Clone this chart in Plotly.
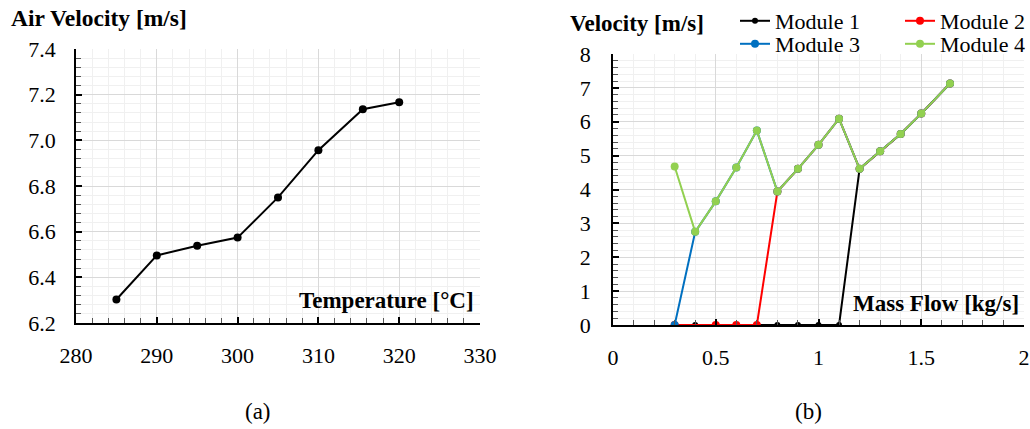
import plotly.graph_objects as go

# ---- data (a) ----
temp_c = [285, 290, 295, 300, 305, 310, 315.5, 320]
air_velocity = [6.303, 6.496, 6.538, 6.574, 6.750, 6.957, 7.136, 7.167]

# ---- data (b) ----
flow_m1 = [0.3, 0.4, 0.5, 0.6, 0.7, 0.8, 0.9, 1.0, 1.1, 1.2, 1.3, 1.4, 1.5, 1.64]
vel_m1 = [0, 0, 0, 0, 0, 0, 0, 0, 0, 4.61, 5.13, 5.64, 6.24, 7.13]
flow_m2 = [0.3, 0.5, 0.6, 0.7, 0.8, 0.9, 1.0, 1.1, 1.2, 1.3, 1.4, 1.5, 1.64]
vel_m2 = [0, 0, 0, 0, 3.94, 4.61, 5.32, 6.09, 4.61, 5.13, 5.64, 6.24, 7.13]
flow_m3 = [0.3, 0.4, 0.5, 0.6, 0.7, 0.8, 0.9, 1.0, 1.1, 1.2, 1.3, 1.4, 1.5, 1.64]
vel_m3 = [0, 2.75, 3.65, 4.65, 5.74, 3.94, 4.61, 5.32, 6.09, 4.61, 5.13, 5.64, 6.24, 7.13]
flow_m4 = [0.3, 0.4, 0.5, 0.6, 0.7, 0.8, 0.9, 1.0, 1.1, 1.2, 1.3, 1.4, 1.5, 1.64]
vel_m4 = [4.68, 2.75, 3.65, 4.65, 5.74, 3.94, 4.61, 5.32, 6.09, 4.61, 5.13, 5.64, 6.24, 7.13]

module_names = ["Module 1", "Module 2", "Module 3", "Module 4"]
module_colors = ["#000000", "#FF0000", "#0070C0", "#92D050"]
module_x = [flow_m1, flow_m2, flow_m3, flow_m4]
module_y = [vel_m1, vel_m2, vel_m3, vel_m4]
module_marker = [6, 8, 8, 8]
module_legend = ["legend", "legend2", "legend3", "legend4"]

FONT = "Liberation Serif, Times New Roman, serif"
W, H = 1030, 429

fig = go.Figure()

fig.add_trace(go.Scatter(
    x=temp_c, y=air_velocity, mode="lines+markers",
    line=dict(color="black", width=2), marker=dict(color="black", size=8),
    xaxis="x", yaxis="y", showlegend=False))

for name, col, xs, ys, ms, lg in zip(module_names, module_colors, module_x, module_y,
                                       module_marker, module_legend):
    fig.add_trace(go.Scatter(
        x=xs, y=ys, mode="lines+markers", name=name,
        line=dict(color=col, width=2), marker=dict(color=col, size=ms),
        xaxis="x2", yaxis="y2", legend=lg, showlegend=True))


def ax(rng, dtick, mdtick, domain, standoff, anchor, fmt=None):
    d = dict(
        range=rng, dtick=dtick, tick0=rng[0], domain=domain, anchor=anchor,
        automargin=False,
        ticks="inside", ticklen=6, tickwidth=1.5, tickcolor="black",
        showline=True, linecolor="black", linewidth=1.5,
        showgrid=True, gridcolor="#d9d9d9", gridwidth=1,
        zeroline=False, ticklabelstandoff=standoff,
        tickfont=dict(family=FONT, size=22, color="black"),
        minor=dict(dtick=mdtick, ticks="inside", ticklen=5, tickcolor="#555555",
                   tickwidth=1, showgrid=True, gridcolor="#f0f0f0", gridwidth=1),
        fixedrange=True,
    )
    if fmt:
        d["tickformat"] = fmt
    return d


px_x = lambda p: p / W
px_y = lambda p: 1 - p / H


def leg(x, y, anchor):
    return dict(orientation="h", x=x, y=y, xanchor=anchor, yanchor="top",
                font=dict(family=FONT, size=22), bgcolor="rgba(0,0,0,0)",
                itemclick=False, itemdoubleclick=False, itemwidth=30)


layout = dict(
    template="none",
    width=W, height=H, autosize=False, margin=dict(l=0, r=0, t=0, b=0),
    paper_bgcolor="white", plot_bgcolor="white",
    font=dict(family=FONT, color="black"),
    xaxis=ax([280, 330], 10, 2, [px_x(76), px_x(480)], 12, "y"),
    yaxis=ax([6.2, 7.4], 0.2, 0.04, [px_y(323), px_y(49)], 14, "x", ".1f"),
    xaxis2=ax([0, 2], 0.5, 0.1, [px_x(613), px_x(1024)], 12, "y2"),
    yaxis2=ax([0, 8], 1, 0.2, [px_y(325), px_y(54)], 16, "x2"),
    legend=leg(px_x(735), 1.0, "left"),
    legend2=leg(1.0, 1.0, "right"),
    legend3=leg(px_x(735), px_y(23), "left"),
    legend4=leg(1.0, px_y(23), "right"),
    annotations=[
        dict(text="<b>Air Velocity [m/s]</b>", x=px_x(9), y=px_y(18), xref="paper", yref="paper",
             xanchor="left", yanchor="middle", showarrow=False, font=dict(family=FONT, size=23.5)),
        dict(text="<b>Temperature [°C]</b>", x=px_x(476), y=px_y(300), xref="paper", yref="paper",
             xanchor="right", yanchor="middle", showarrow=False, font=dict(family=FONT, size=23)),
        dict(text="<b>Velocity [m/s]</b>", x=px_x(568), y=px_y(24), xref="paper", yref="paper",
             xanchor="left", yanchor="middle", showarrow=False, font=dict(family=FONT, size=23)),
        dict(text="<b>Mass Flow [kg/s]</b>", x=px_x(1021), y=px_y(303), xref="paper", yref="paper",
             xanchor="right", yanchor="middle", showarrow=False, font=dict(family=FONT, size=23)),
        dict(text="(a)", x=px_x(258), y=px_y(411), xref="paper", yref="paper",
             xanchor="center", yanchor="middle", showarrow=False, font=dict(family=FONT, size=23)),
        dict(text="(b)", x=px_x(808), y=px_y(411), xref="paper", yref="paper",
             xanchor="center", yanchor="middle", showarrow=False, font=dict(family=FONT, size=23)),
    ],
)
fig.update_layout(**layout)
fig.write_html(
    "out.html",
    config={"displayModeBar": False, "responsive": False},
    post_script="document.body.style.margin='0';document.body.style.padding='0';"
                "document.body.style.overflow='hidden';",
)
